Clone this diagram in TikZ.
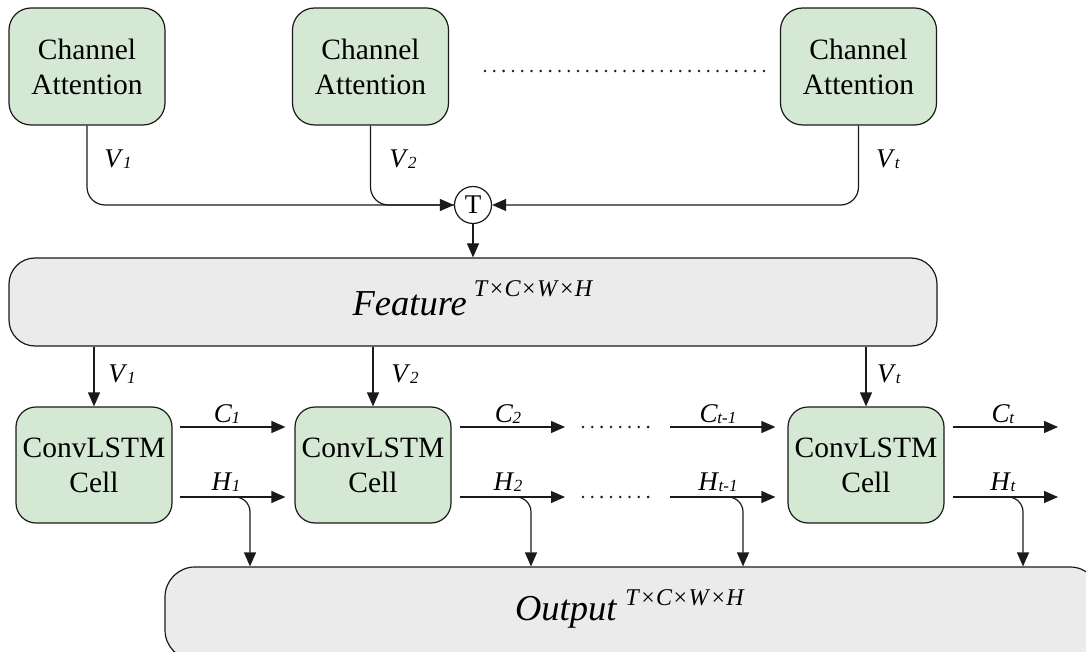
\documentclass[tikz,border=0pt]{standalone}
\usepackage{fontspec}
\setmainfont{Liberation Serif}
\usetikzlibrary{arrows.meta}
\definecolor{boxgreen}{HTML}{D5E8D4}
\definecolor{boxgray}{HTML}{EBEBEB}
\definecolor{edge}{HTML}{1A1A1A}
\newcommand\vsub[2]{\textit{#1}\kern-0.5pt\raisebox{-1pt}{\fontsize{17}{17}\selectfont\textit{#2}}}
\newcommand\dimsup{\fontsize{24}{24}\selectfont\textit{T}\kern1.3pt×\kern1.3pt\textit{C}\kern1.3pt×\kern1.3pt\textit{W}\kern1.3pt×\kern1.3pt\textit{H}}
\begin{document}
\begin{tikzpicture}[x=1pt,y=-1pt,
  greenbox/.style={draw=edge, line width=1.2pt, fill=boxgreen, rounded corners=22pt,
     align=center, inner sep=0pt, font=\fontsize{29.5}{35}\selectfont},
  graybox/.style={draw=edge, line width=1.2pt, fill=boxgray, rounded corners=26pt, inner sep=0pt},
  conn/.style={draw=edge, line width=1.2pt},
  arr/.style={conn, -{Triangle[length=14pt,width=12pt]}},
  lab/.style={font=\fontsize{27}{27}\selectfont, inner sep=0pt, anchor=base},
  dotline/.style={draw=edge, line width=2.8pt, line cap=round, dash pattern=on 0pt off 9.3pt}
]
\useasboundingbox (0,0) rectangle (1086,652);
\clip (0,0) rectangle (1086,652);

% Channel attention boxes
\node[greenbox, minimum width=156pt, minimum height=117pt] (ca1) at (87,66.5) {Channel\\Attention};
\node[greenbox, minimum width=156pt, minimum height=117pt] (ca2) at (370.5,66.5) {Channel\\Attention};
\node[greenbox, minimum width=156pt, minimum height=117pt] (ca3) at (858.5,66.5) {Channel\\Attention};
\coordinate (tdl) at (485,71);
\coordinate (tdr) at (772,71);
\draw[dotline] (tdl) -- (tdr);

% T junction
\node[draw=edge, line width=1.2pt, circle, minimum size=37pt, inner sep=0pt, font=\fontsize{27}{27}\selectfont, fill=white] (T) at (473,205) {T};

\draw[arr, rounded corners=18pt] (ca1.south) |- (T.west);
\draw[conn, rounded corners=18pt] (ca2.south) |- (T.west);
\draw[arr, rounded corners=18pt] (ca3.south) |- (T.east);
\node[lab] (v1a) at (118,168) {\vsub{V}{1}};
\node[lab] (v2a) at (403,168) {\vsub{V}{2}};
\node[lab] (vta) at (888,168) {\vsub{V}{t}};

% Feature box
\node[graybox, minimum width=928pt, minimum height=88pt] (feat) at (473,302) {};
\node[inner sep=0pt, anchor=base] (featlab) at (473,315)
  {\fontsize{36.5}{36.5}\selectfont\textit{Feature}\kern7pt\raisebox{19pt}{\dimsup}};
\draw[arr] (T.south) -- (T.south |- feat.north);

% ConvLSTM cells
\node[greenbox, minimum width=156pt, minimum height=116pt, rounded corners=20pt] (c1) at (94,465) {ConvLSTM\\Cell};
\node[greenbox, minimum width=156pt, minimum height=116pt, rounded corners=20pt] (c2) at (373,465) {ConvLSTM\\Cell};
\node[greenbox, minimum width=156pt, minimum height=116pt, rounded corners=20pt] (c3) at (866,465) {ConvLSTM\\Cell};

\draw[arr] (c1.north |- feat.south) -- (c1.north);
\draw[arr] (c2.north |- feat.south) -- (c2.north);
\draw[arr] (c3.north |- feat.south) -- (c3.north);
\node[lab] (v1b) at (122,382) {\vsub{V}{1}};
\node[lab] (v2b) at (405,382) {\vsub{V}{2}};
\node[lab] (vtb) at (889,382) {\vsub{V}{t}};

% Output box
\node[graybox, minimum width=935pt, minimum height=93pt, rounded corners=30pt] (out) at (632.5,613.5) {};
\node[inner sep=0pt, anchor=base] (outlab) at (630,620)
  {\fontsize{36.5}{36.5}\selectfont\textit{Output}\kern8pt\raisebox{15pt}{\dimsup}};

% coordinates for free ends
\coordinate (c2e) at (565,427);
\coordinate (h2e) at (565,497);
\coordinate (c3s) at (670,427);
\coordinate (h3s) at (670,497);
\coordinate (cte) at (1058,427);
\coordinate (hte) at (1058,497);
\coordinate (dc1) at (583,427);
\coordinate (dc2) at (651,427);
\coordinate (dh1) at (583,497);
\coordinate (dh2) at (651,497);

% C row
\draw[arr, shorten <=7pt, shorten >=9pt] ([yshift=38pt]c1.east) -- ([yshift=38pt]c2.west);
\draw[arr, shorten <=8pt] ([yshift=38pt]c2.east) -- (c2e);
\draw[dotline] (dc1) -- (dc2);
\draw[arr, shorten >=12pt] (c3s) -- ([yshift=38pt]c3.west);
\draw[arr, shorten <=8pt] ([yshift=38pt]c3.east) -- (cte);
% H row
\draw[arr, shorten <=7pt, shorten >=9pt] ([yshift=-32pt]c1.east) -- ([yshift=-32pt]c2.west);
\draw[arr, shorten <=8pt] ([yshift=-32pt]c2.east) -- (h2e);
\draw[dotline] (dh1) -- (dh2);
\draw[arr, shorten >=12pt] (h3s) -- ([yshift=-32pt]c3.west);
\draw[arr, shorten <=8pt] ([yshift=-32pt]c3.east) -- (hte);

\node[lab] (lc1) at (227,422) {\vsub{C}{1}};
\node[lab] (lh1) at (226,490) {\vsub{H}{1}};
\node[lab] (lc2) at (508,422) {\vsub{C}{2}};
\node[lab] (lh2) at (508,490) {\vsub{H}{2}};
\node[lab] (lc3) at (718,422) {\vsub{C}{t-1}};
\node[lab] (lh3) at (718,490) {\vsub{H}{t-1}};
\node[lab] (lct) at (1003,422) {\vsub{C}{t}};
\node[lab] (lht) at (1003,490) {\vsub{H}{t}};

% H branches to output
\coordinate (hb1) at (235,497); \coordinate (hd1) at (250,0);
\coordinate (hb2) at (516,497); \coordinate (hd2) at (531,0);
\coordinate (hb3) at (727,497); \coordinate (hd3) at (743,0);
\coordinate (hb4) at (1007,497); \coordinate (hd4) at (1023,0);
\draw[arr, rounded corners=15pt] (hb1) -| (hd1 |- out.north);
\draw[arr, rounded corners=15pt] (hb2) -| (hd2 |- out.north);
\draw[arr, rounded corners=15pt] (hb3) -| (hd3 |- out.north);
\draw[arr, rounded corners=15pt] (hb4) -| (hd4 |- out.north);
\end{tikzpicture}
\end{document}
